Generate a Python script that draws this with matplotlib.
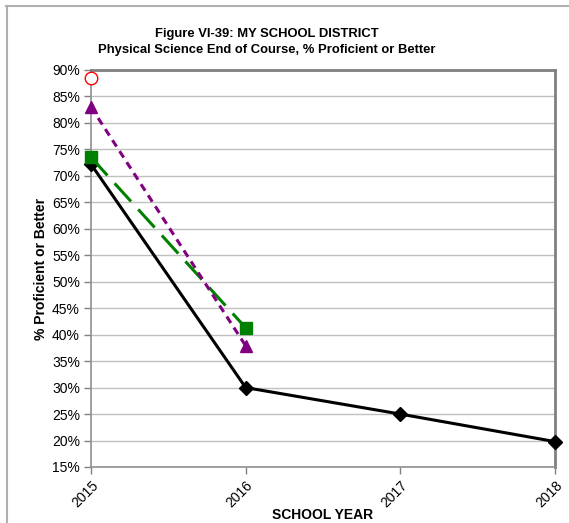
import matplotlib
matplotlib.use("Agg")
import matplotlib.pyplot as plt
from matplotlib.lines import Line2D

plt.rcParams['font.family'] = ['Liberation Sans', 'DejaVu Sans']

years = [2015, 2016, 2017, 2018]
district = [72.2, 30.0, 25.0, 19.8]
green_years = [2015, 2016]
green_vals = [73.5, 41.3]
purple_years = [2015, 2016]
purple_vals = [83.0, 37.9]
red_years = [2015]
red_vals = [88.5]
yticks = list(range(15, 91, 5))

fig = plt.figure(figsize=(5.69, 5.23), dpi=100)
ax = fig.add_axes([91/569, 56/523, 464/569, 397/523])

ax.set_xlim(2015, 2018)
ax.set_ylim(15, 90)
ax.set_yticks(yticks)
ax.set_yticklabels([f"{v}%" for v in yticks], fontsize=10)
ax.set_xticks(years)
ax.set_xticklabels([str(y) for y in years], fontsize=10, rotation=45,
                   ha='right', rotation_mode='anchor')
ax.grid(axis='y', color='#c0c0c0', linewidth=1)
ax.set_axisbelow(True)
ax.tick_params(axis='both', direction='out', length=5, color='#808080', width=1)
ax.tick_params(axis='y', pad=3)
ax.tick_params(axis='x', pad=3)

for s in ['left', 'bottom']:
    ax.spines[s].set_color('#909090')
    ax.spines[s].set_linewidth(1.2)
for s in ['top', 'right']:
    ax.spines[s].set_color('#808080')
    ax.spines[s].set_linewidth(2)

ax.plot(years, district, color='black', linewidth=2.2, marker='D',
        markersize=7.5, markerfacecolor='black', markeredgecolor='black',
        clip_on=False, zorder=3)
ax.plot(green_years, green_vals, color='#008000', linewidth=2.2,
        linestyle=(0, (8, 3.5)), marker='s', markersize=9,
        markerfacecolor='#008000', markeredgecolor='#008000',
        clip_on=False, zorder=4)
ax.plot(purple_years, purple_vals, color='#800080', linewidth=2.2,
        linestyle=(0, (2.5, 1.8)), marker='^', markersize=9,
        markerfacecolor='#800080', markeredgecolor='#800080',
        clip_on=False, zorder=5)
ax.plot(red_years, red_vals, linestyle='none', marker='o', markersize=9,
        markerfacecolor='white', markeredgecolor='red', markeredgewidth=1,
        clip_on=False, zorder=6)

ax.set_ylabel('% Proficient or Better', fontsize=10, fontweight='bold')
ax.yaxis.set_label_coords(-(91 - 48) / 464, 0.5)
ax.set_xlabel('SCHOOL YEAR', fontsize=10, fontweight='bold')
ax.xaxis.set_label_coords(0.5, -(508 - 467) / 397)

fig.text(267/569, 1 - 33.5/523, 'Figure VI-39: MY SCHOOL DISTRICT',
         ha='center', va='center', fontsize=9.4, fontweight='bold')
fig.text(267/569, 1 - 49.5/523, 'Physical Science End of Course, % Proficient or Better',
         ha='center', va='center', fontsize=9.4, fontweight='bold')

# outer chart border (top and left visible)
fig.add_artist(Line2D([6/569, 1.0], [1 - 5.5/523, 1 - 5.5/523],
                      transform=fig.transFigure, color='#b0b0b0', linewidth=1.5))
fig.add_artist(Line2D([6.5/569, 6.5/569], [0, 1 - 5.5/523],
                      transform=fig.transFigure, color='#b0b0b0', linewidth=1.5))

fig.savefig('out.png', dpi=100)
